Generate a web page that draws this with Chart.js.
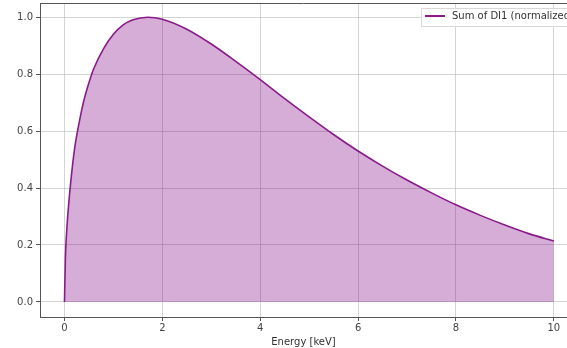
<!DOCTYPE html>
<html>
<head>
<meta charset="utf-8">
<script src="https://cdn.jsdelivr.net/npm/chart.js@4/dist/chart.umd.min.js"></script>
<style>
  html, body { margin: 0; padding: 0; background: #fff; overflow: hidden; }
  #wrap { width: 567px; height: 348px; }
</style>
</head>
<body>
<div id="wrap"><canvas id="specChart" width="567" height="348"></canvas></div>
<script>
// values (energy in keV, normalized sum)
const energy = [0, 0.02, 0.05, 0.1, 0.2, 0.3, 0.4, 0.5, 0.6, 0.8, 1.0, 1.2, 1.4, 1.7, 2.0, 2.5, 3.0, 3.5, 4.0, 4.5, 5.0, 5.5, 6.0, 6.5, 7.0, 7.5, 8.0, 8.5, 9.0, 9.5, 10.0];
const sumDI1 = [0, 0.16, 0.26, 0.37, 0.53, 0.63, 0.71, 0.77, 0.82, 0.89, 0.94, 0.973, 0.991, 1.0, 0.993, 0.958, 0.906, 0.845, 0.781, 0.714, 0.65, 0.588, 0.53, 0.477, 0.428, 0.383, 0.341, 0.304, 0.27, 0.239, 0.214];
const xTicks = [0, 2, 4, 6, 8, 10];
const yTicks = [0, 0.2, 0.4, 0.6, 0.8, 1.0];
const seriesLabel = 'Sum of DI1 (normalized)';

const lineColor = '#8a1a8a';
const tickFont = { family: 'DejaVu Sans', size: 10 };

// top frame line + matplotlib-style legend box
const frameAndLegend = {
    id: 'frameAndLegend',
    afterDraw(chart) {
        const ctx = chart.ctx;
        const a = chart.chartArea;
        ctx.save();
        ctx.strokeStyle = '#555';
        ctx.lineWidth = 1;
        ctx.beginPath();
        ctx.moveTo(a.left, a.top + 0.5);
        ctx.lineTo(a.right, a.top + 0.5);
        ctx.stroke();

        // legend
        const bx = 421, by = 8, bw = 160, bh = 18;
        ctx.fillStyle = 'rgba(255,255,255,0.85)';
        ctx.strokeStyle = '#d8d8d8';
        ctx.beginPath();
        ctx.rect(bx + 0.5, by + 0.5, bw, bh);
        ctx.fill();
        ctx.stroke();
        ctx.strokeStyle = lineColor;
        ctx.lineWidth = 2;
        ctx.beginPath();
        ctx.moveTo(425, by + 8);
        ctx.lineTo(445, by + 8);
        ctx.stroke();
        ctx.fillStyle = '#333';
        ctx.font = '10px "DejaVu Sans"';
        ctx.textBaseline = 'middle';
        ctx.fillText(chart.data.datasets[0].label, 452, by + 8.5);
        ctx.restore();
    }
};

const ctx = document.getElementById('specChart').getContext('2d');
const specChart = new Chart(ctx, {
    type: 'line',
    data: {
        datasets: [{
            label: seriesLabel,
            data: energy.map((e, i) => ({ x: e, y: sumDI1[i] })),
            borderColor: lineColor,
            borderWidth: 1.6,
            backgroundColor: 'rgba(128,0,128,0.32)',
            fill: 'origin',
            pointRadius: 0,
            cubicInterpolationMode: 'monotone'
        }]
    },
    options: {
        responsive: false,
        animation: false,
        devicePixelRatio: 1,
        layout: { padding: { top: 3, right: 0, left: 0, bottom: 0 } },
        plugins: {
            legend: { display: false },
            tooltip: { enabled: false }
        },
        scales: {
            x: {
                type: 'linear',
                min: -0.5,
                max: 10.27,
                afterBuildTicks: scale => { scale.ticks = xTicks.map(v => ({ value: v })); },
                afterFit: scale => { scale.height = 31; scale.paddingLeft = 0; scale.paddingRight = 0; },
                ticks: {
                    font: tickFont,
                    color: '#444',
                    padding: 1,
                    maxRotation: 0,
                    callback: v => String(v)
                },
                grid: {
                    color: 'rgba(176,176,176,0.55)',
                    tickColor: '#555',
                    tickLength: 4
                },
                border: { color: '#555', width: 1 },
                title: {
                    display: true,
                    text: 'Energy [keV]',
                    font: tickFont,
                    color: '#333',
                    padding: { top: 0, bottom: 0 }
                }
            },
            y: {
                min: -0.053,
                max: 1.05,
                afterBuildTicks: scale => { scale.ticks = yTicks.map(v => ({ value: v })); },
                afterFit: scale => { scale.width = 40; scale.paddingTop = 0; scale.paddingBottom = 0; },
                ticks: {
                    font: tickFont,
                    color: '#444',
                    padding: 3,
                    callback: v => v.toFixed(1)
                },
                grid: {
                    color: 'rgba(176,176,176,0.55)',
                    tickColor: '#555',
                    tickLength: 4
                },
                border: { color: '#555', width: 1 }
            }
        }
    },
    plugins: [frameAndLegend]
});
</script>
</body>
</html>
